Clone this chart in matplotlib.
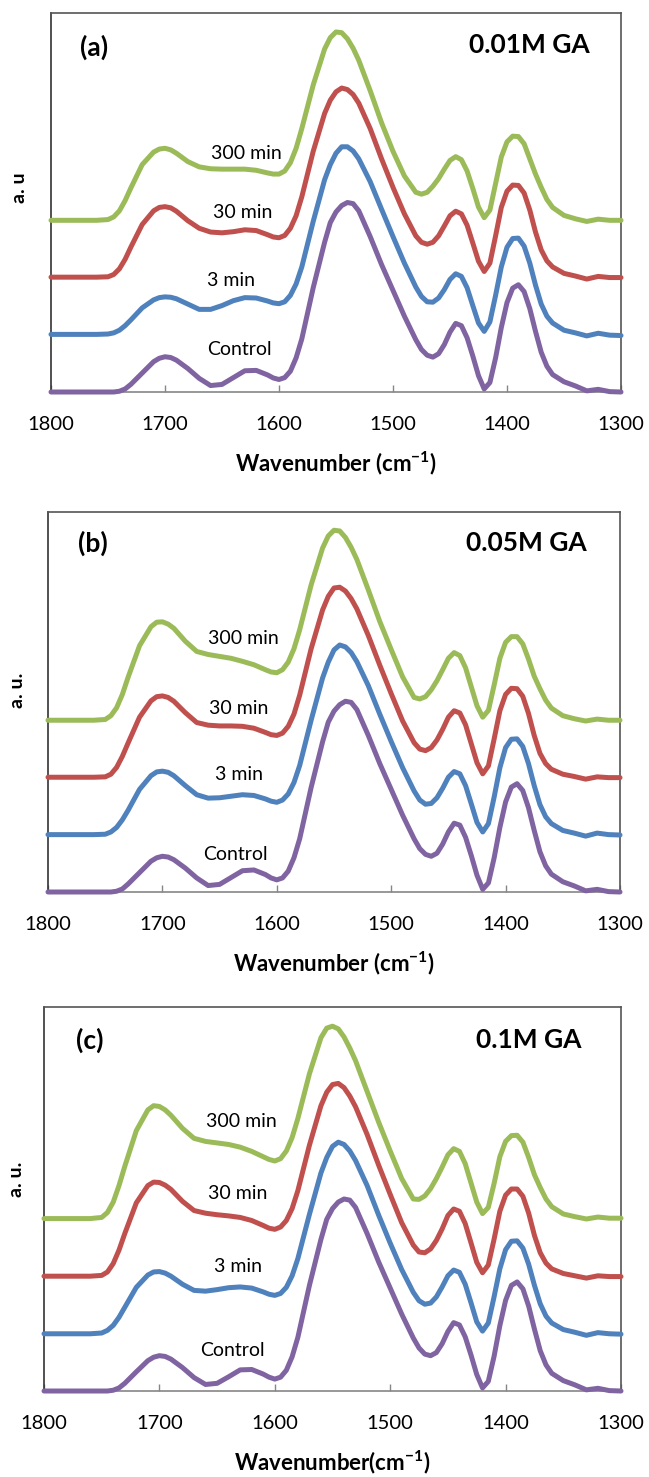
import matplotlib
matplotlib.use("Agg")
import matplotlib.pyplot as plt

# ---------------- data ----------------
wavenumber = [1800, 1780, 1760, 1750, 1745, 1740, 1735, 1730,
              1720, 1710, 1705, 1700, 1695, 1690,
              1680, 1670, 1660, 1650, 1640, 1630, 1620, 1610,
              1605, 1600, 1595, 1590, 1585, 1580,
              1570, 1560, 1555, 1550, 1545, 1540, 1535, 1530,
              1520, 1510, 1500, 1490, 1480, 1475, 1470, 1465, 1460, 1455,
              1450, 1445, 1440, 1435, 1430, 1425, 1420, 1415, 1410, 1405,
              1400, 1395, 1390, 1385, 1380, 1375, 1370, 1365, 1360,
              1350, 1340, 1330, 1320, 1310, 1300]

# Panel (a) 0.01M GA
a_control = [0.000, 0.000, 0.000, 0.000, 0.000, 0.002, 0.008, 0.020,
             0.050, 0.080, 0.089, 0.093, 0.091, 0.084,
             0.062, 0.036, 0.017, 0.020, 0.038, 0.056, 0.057, 0.045,
             0.037, 0.033, 0.038, 0.055, 0.090, 0.140,
             0.275, 0.395, 0.447, 0.475, 0.492, 0.500, 0.497, 0.478,
             0.410, 0.336, 0.268, 0.200, 0.138, 0.112, 0.097, 0.092, 0.101, 0.125,
             0.158, 0.181, 0.175, 0.143, 0.095, 0.043, 0.008, 0.025, 0.090, 0.170,
             0.236, 0.274, 0.283, 0.265, 0.220, 0.160, 0.105, 0.068, 0.046,
             0.027, 0.016, 0.003, 0.007, 0.001, 0.000]
a_3min = [0.152, 0.152, 0.152, 0.153, 0.156, 0.163, 0.175, 0.190,
          0.222, 0.243, 0.249, 0.251, 0.250, 0.246,
          0.232, 0.218, 0.218, 0.228, 0.241, 0.249, 0.248, 0.240,
          0.235, 0.233, 0.238, 0.255, 0.285, 0.330,
          0.450, 0.560, 0.600, 0.630, 0.647, 0.647, 0.636, 0.615,
          0.555, 0.482, 0.410, 0.340, 0.277, 0.252, 0.238, 0.237, 0.248, 0.270,
          0.297, 0.312, 0.305, 0.275, 0.228, 0.182, 0.160, 0.185, 0.255, 0.330,
          0.382, 0.405, 0.406, 0.385, 0.340, 0.282, 0.232, 0.200, 0.182,
          0.163, 0.156, 0.148, 0.155, 0.150, 0.149]
a_30min = [0.303, 0.303, 0.303, 0.304, 0.310, 0.325, 0.350, 0.382,
           0.442, 0.478, 0.487, 0.489, 0.486, 0.477,
           0.452, 0.432, 0.422, 0.420, 0.423, 0.428, 0.426, 0.415,
           0.409, 0.407, 0.413, 0.432, 0.465, 0.515,
           0.635, 0.735, 0.770, 0.792, 0.802, 0.798, 0.785, 0.762,
           0.695, 0.615, 0.540, 0.470, 0.412, 0.395, 0.390, 0.395, 0.412, 0.438,
           0.465, 0.477, 0.470, 0.440, 0.393, 0.345, 0.318, 0.340, 0.412, 0.487,
           0.530, 0.546, 0.545, 0.525, 0.480, 0.422, 0.375, 0.346, 0.330,
           0.313, 0.306, 0.298, 0.305, 0.302, 0.302]
a_300min = [0.453, 0.453, 0.453, 0.455, 0.462, 0.478, 0.505, 0.538,
            0.600, 0.633, 0.641, 0.643, 0.639, 0.630,
            0.608, 0.594, 0.589, 0.588, 0.588, 0.588, 0.585, 0.578,
            0.575, 0.575, 0.583, 0.605, 0.643, 0.695,
            0.810, 0.905, 0.935, 0.950, 0.948, 0.932, 0.907, 0.875,
            0.795, 0.710, 0.635, 0.570, 0.527, 0.522, 0.527, 0.543, 0.563, 0.588,
            0.611, 0.621, 0.613, 0.583, 0.537, 0.488, 0.460, 0.480, 0.550, 0.620,
            0.660, 0.675, 0.674, 0.655, 0.615, 0.575, 0.540, 0.508, 0.487,
            0.466, 0.457, 0.450, 0.456, 0.453, 0.453]

# Panel (b) 0.05M GA
b_control = [0.000, 0.000, 0.000, 0.000, 0.000, 0.002, 0.008, 0.021,
             0.051, 0.081, 0.090, 0.094, 0.092, 0.085,
             0.063, 0.037, 0.017, 0.020, 0.038, 0.056, 0.058, 0.046,
             0.037, 0.032, 0.037, 0.055, 0.090, 0.140,
             0.275, 0.395, 0.447, 0.476, 0.493, 0.502, 0.499, 0.480,
             0.412, 0.338, 0.270, 0.202, 0.140, 0.114, 0.099, 0.094, 0.102, 0.126,
             0.158, 0.181, 0.176, 0.144, 0.096, 0.044, 0.007, 0.024, 0.090, 0.170,
             0.237, 0.276, 0.285, 0.267, 0.222, 0.162, 0.106, 0.069, 0.047,
             0.027, 0.016, 0.003, 0.007, 0.001, 0.000]
b_3min = [0.151, 0.151, 0.151, 0.152, 0.158, 0.170, 0.190, 0.215,
          0.270, 0.306, 0.316, 0.318, 0.315, 0.306,
          0.280, 0.256, 0.247, 0.248, 0.252, 0.256, 0.254, 0.245,
          0.239, 0.236, 0.242, 0.258, 0.288, 0.333,
          0.452, 0.563, 0.605, 0.637, 0.650, 0.645, 0.630, 0.606,
          0.543, 0.468, 0.396, 0.327, 0.266, 0.242, 0.231, 0.233, 0.248, 0.273,
          0.302, 0.317, 0.311, 0.280, 0.232, 0.183, 0.158, 0.180, 0.250, 0.327,
          0.380, 0.402, 0.403, 0.383, 0.338, 0.280, 0.230, 0.198, 0.180,
          0.162, 0.155, 0.147, 0.155, 0.151, 0.150]
b_30min = [0.302, 0.302, 0.302, 0.303, 0.310, 0.328, 0.357, 0.392,
           0.460, 0.503, 0.514, 0.516, 0.512, 0.502,
           0.472, 0.446, 0.439, 0.437, 0.437, 0.436, 0.431, 0.420,
           0.414, 0.412, 0.418, 0.436, 0.468, 0.518,
           0.640, 0.742, 0.778, 0.800, 0.802, 0.792, 0.772, 0.745,
           0.675, 0.597, 0.522, 0.450, 0.393, 0.376, 0.372, 0.380, 0.400, 0.428,
           0.460, 0.477, 0.471, 0.440, 0.390, 0.340, 0.311, 0.332, 0.403, 0.477,
           0.520, 0.536, 0.535, 0.515, 0.470, 0.412, 0.365, 0.338, 0.323,
           0.310, 0.304, 0.297, 0.303, 0.301, 0.301]
b_300min = [0.452, 0.452, 0.452, 0.454, 0.464, 0.485, 0.520, 0.565,
            0.648, 0.698, 0.710, 0.711, 0.705, 0.694,
            0.660, 0.633, 0.625, 0.620, 0.615, 0.607, 0.598, 0.585,
            0.579, 0.577, 0.585, 0.605, 0.640, 0.690,
            0.808, 0.905, 0.937, 0.952, 0.950, 0.933, 0.907, 0.875,
            0.795, 0.712, 0.638, 0.566, 0.512, 0.508, 0.514, 0.532, 0.556, 0.585,
            0.615, 0.630, 0.622, 0.590, 0.540, 0.490, 0.460, 0.478, 0.545, 0.615,
            0.657, 0.672, 0.672, 0.653, 0.613, 0.568, 0.535, 0.505, 0.484,
            0.464, 0.456, 0.450, 0.455, 0.452, 0.452]

# Panel (c) 0.1M GA
c_control = [0.000, 0.000, 0.000, 0.000, 0.000, 0.002, 0.008, 0.020,
             0.050, 0.079, 0.088, 0.092, 0.090, 0.083,
             0.061, 0.035, 0.017, 0.020, 0.037, 0.055, 0.056, 0.044,
             0.036, 0.031, 0.036, 0.054, 0.089, 0.140,
             0.275, 0.395, 0.447, 0.475, 0.492, 0.500, 0.497, 0.478,
             0.410, 0.336, 0.268, 0.200, 0.138, 0.112, 0.096, 0.092, 0.100, 0.123,
             0.155, 0.178, 0.172, 0.141, 0.094, 0.043, 0.008, 0.025, 0.090, 0.170,
             0.236, 0.275, 0.284, 0.266, 0.221, 0.161, 0.105, 0.068, 0.046,
             0.027, 0.016, 0.003, 0.007, 0.001, 0.000]
c_3min = [0.149, 0.149, 0.149, 0.151, 0.158, 0.171, 0.192, 0.218,
          0.270, 0.302, 0.310, 0.311, 0.307, 0.299,
          0.278, 0.262, 0.260, 0.264, 0.269, 0.271, 0.268, 0.258,
          0.252, 0.249, 0.254, 0.270, 0.300, 0.345,
          0.460, 0.568, 0.608, 0.637, 0.648, 0.642, 0.625, 0.600,
          0.535, 0.458, 0.385, 0.316, 0.257, 0.235, 0.226, 0.229, 0.245, 0.271,
          0.300, 0.315, 0.309, 0.278, 0.230, 0.180, 0.156, 0.177, 0.245, 0.318,
          0.368, 0.390, 0.391, 0.372, 0.330, 0.275, 0.227, 0.195, 0.177,
          0.160, 0.153, 0.145, 0.152, 0.149, 0.148]
c_30min = [0.299, 0.299, 0.299, 0.301, 0.310, 0.332, 0.367, 0.410,
           0.490, 0.535, 0.544, 0.543, 0.536, 0.525,
           0.494, 0.470, 0.463, 0.459, 0.456, 0.452, 0.444, 0.431,
           0.424, 0.421, 0.427, 0.444, 0.475, 0.522,
           0.640, 0.743, 0.778, 0.798, 0.801, 0.790, 0.768, 0.740,
           0.668, 0.588, 0.512, 0.438, 0.380, 0.362, 0.360, 0.370, 0.392, 0.422,
           0.457, 0.474, 0.468, 0.436, 0.386, 0.335, 0.308, 0.328, 0.395, 0.468,
           0.510, 0.526, 0.526, 0.507, 0.463, 0.405, 0.360, 0.333, 0.318,
           0.306, 0.300, 0.294, 0.300, 0.298, 0.298]
c_300min = [0.449, 0.449, 0.449, 0.452, 0.465, 0.492, 0.535, 0.585,
            0.678, 0.732, 0.743, 0.741, 0.732, 0.718,
            0.684, 0.658, 0.650, 0.646, 0.642, 0.635, 0.624, 0.610,
            0.603, 0.599, 0.605, 0.625, 0.660, 0.710,
            0.826, 0.920, 0.945, 0.950, 0.943, 0.922, 0.893, 0.860,
            0.780, 0.700, 0.625, 0.553, 0.500, 0.499, 0.508, 0.527, 0.553, 0.583,
            0.615, 0.631, 0.624, 0.592, 0.542, 0.492, 0.462, 0.478, 0.540, 0.610,
            0.650, 0.665, 0.666, 0.648, 0.608, 0.563, 0.530, 0.500, 0.480,
            0.461, 0.454, 0.448, 0.453, 0.450, 0.450]

series_names = ["Control", "3 min", "30 min", "300 min"]
series_colors = ["#8064A2", "#4F81BD", "#C0504D", "#9BBB59"]
panel_tags = ["(a)", "(b)", "(c)"]
panel_titles = ["0.01M GA", "0.05M GA", "0.1M GA"]
y_labels = ["a. u", "a. u.", "a. u."]
x_labels = [r"Wavenumber (cm$^{\mathbf{-1}}$)", r"Wavenumber (cm$^{\mathbf{-1}}$)",
            r"Wavenumber(cm$^{\mathbf{-1}}$)"]
x_ticks = [1800, 1700, 1600, 1500, 1400, 1300]

panels = [
    [a_control, a_3min, a_30min, a_300min],
    [b_control, b_3min, b_30min, b_300min],
    [c_control, c_3min, c_30min, c_300min],
]

# ---------------- layout ----------------
plt.rcParams['font.family'] = ['Lato', 'DejaVu Sans']
plt.rcParams['mathtext.fontset'] = 'custom'
plt.rcParams['mathtext.rm'] = 'Lato'
plt.rcParams['mathtext.bf'] = 'Lato:bold'

W, H = 649, 1477
fig = plt.figure(figsize=(W / 100, H / 100), dpi=100)

# pixel boxes: left, right, top, bottom
boxes = [(51, 621, 13, 392), (48, 620, 512, 892), (44, 621, 1007, 1391)]
label_pos = [
    [(1635, 0.112), (1642, 0.294), (1632, 0.473), (1629, 0.629)],
    [(1636, 0.100), (1633, 0.309), (1633, 0.482), (1629, 0.667)],
    [(1637, 0.105), (1632, 0.323), (1632, 0.514), (1629, 0.701)],
]
ylab_pos = [(-0.056, 0.54), (-0.054, 0.53), (-0.047, 0.55)]
tag_pos = [(0.075, 0.910), (0.079, 0.918), (0.080, 0.914)]
title_pos = [(0.839, 0.916), (0.836, 0.918), (0.840, 0.914)]

for i, (l, r, t, b) in enumerate(boxes):
    ax = fig.add_axes([l / W, (H - b) / H, (r - l) / W, (b - t) / H])
    for vals, name, col in zip(panels[i], series_names, series_colors):
        ax.plot(wavenumber, vals, color=col, lw=3.6, solid_capstyle='round',
                solid_joinstyle='round', clip_on=False, zorder=3)
    for (wx, wy), name in zip(label_pos[i], series_names):
        ax.text(wx, wy, name, fontsize=14, ha='center', va='center', color='black', zorder=4)
    ax.set_xlim(1800, 1300)
    ax.set_ylim(0, 1)
    ax.set_xticks(x_ticks)
    ax.set_xticklabels([str(v) for v in x_ticks])
    ax.set_yticks([])
    ax.tick_params(axis='x', direction='in', length=5, width=1, color='#868686',
                   labelsize=14.5, pad=17)
    for side, sp in ax.spines.items():
        sp.set_linewidth(1.2)
        sp.set_color('#868686' if side == 'bottom' else '#555555')
    ax.spines['left'].set_color('#333333')
    ax.text(*tag_pos[i], panel_tags[i], transform=ax.transAxes, fontsize=19,
            fontweight='bold', ha='center', va='center')
    ax.text(*title_pos[i], panel_titles[i], transform=ax.transAxes, fontsize=19,
            fontweight='bold', ha='center', va='center')
    ax.text(*ylab_pos[i], y_labels[i], transform=ax.transAxes, fontsize=14,
            fontweight='bold', rotation=90, ha='center', va='center')
    ax.text(0.5, -71 / (b - t), x_labels[i], transform=ax.transAxes, fontsize=16,
            fontweight='bold', ha='center', va='center')

fig.savefig("out.png", dpi=100)
